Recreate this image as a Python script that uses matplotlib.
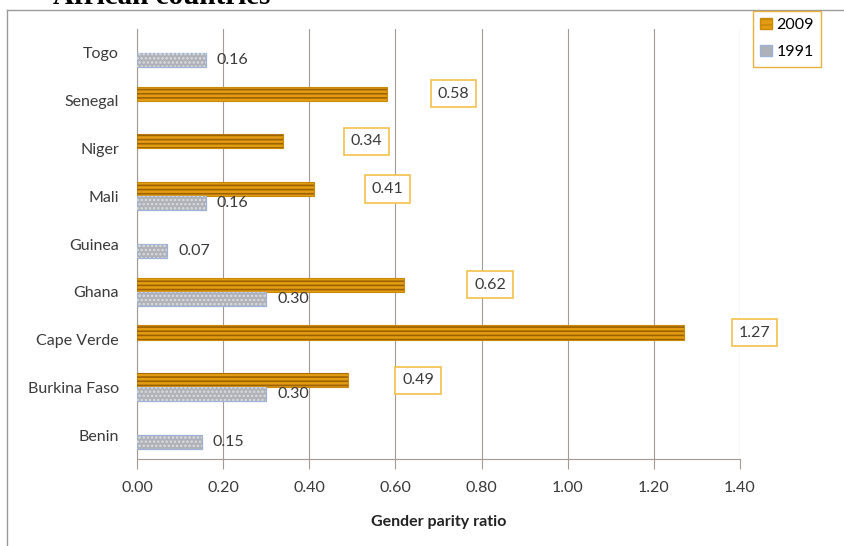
import numpy as np
import matplotlib.pyplot as plt
from matplotlib.patches import Patch
from matplotlib.lines import Line2D

# -------------------- data --------------------
countries = ["Benin", "Burkina Faso", "Cape Verde", "Ghana", "Guinea",
             "Mali", "Niger", "Senegal", "Togo"]
gpr_2009 = [np.nan, 0.49, 1.27, 0.62, np.nan, 0.41, 0.34, 0.58, np.nan]
gpr_1991 = [0.15, 0.30, np.nan, 0.30, 0.07, 0.16, np.nan, np.nan, 0.16]
xticks = np.arange(0, 1.41, 0.2)

# horizontal shift (pixels) of the boxed 2009 labels past the bar end
box_shift = [0, 48, 49, 64, 0, 52, 61, 45, 0]

# -------------------- style --------------------
fs = 11.5
grid_c = "#a39b93"
gold = "#e39c12"
gold_dark = "#9c6200"
grey = "#aeb1b7"
blue_edge = "#9db2d6"
txt_c = "#3a3a3a"

plt.rcParams.update({
    "font.family": ["Lato", "DejaVu Sans"],
    "font.size": fs,
    "hatch.linewidth": 1.2,
})

W, H = 844, 546
fig = plt.figure(figsize=(W / 100, H / 100), dpi=100)
ax = fig.add_axes([137 / W, 1 - 459 / H, 603 / W, 430 / H])

y = np.arange(len(countries))
bh = 0.295
v09 = np.array(gpr_2009)
v91 = np.array(gpr_1991)

# 2009 bars: gold with dark horizontal stripes
ax.barh(y + bh / 2, v09, height=bh, color=gold, edgecolor="#c98a0a", linewidth=0.8, zorder=3)
ax.barh(y + bh / 2, v09, height=bh, color="none", edgecolor=gold_dark, hatch="----",
        linewidth=0, zorder=4)

# 1991 bars: speckled grey with pale blue border
ax.barh(y - bh / 2, v91, height=bh, color=grey, edgecolor=blue_edge, linewidth=0.9, zorder=3)
ax.barh(y - bh / 2, v91, height=bh, color="none", edgecolor="#dcdde0", hatch="....",
        linewidth=0, zorder=4)

# labels
for i, v in enumerate(v91):
    if np.isfinite(v):
        ax.annotate(f"{v:.2f}", (v, y[i] - bh / 2), xytext=(11, 0), textcoords="offset pixels",
                    ha="left", va="center", color=txt_c, fontsize=fs, zorder=5)
for i, v in enumerate(v09):
    if np.isfinite(v):
        ax.annotate(f"{v:.2f}", (v, y[i] + bh / 2), xytext=(box_shift[i] + 6, 0),
                    textcoords="offset pixels", ha="left", va="center", color=txt_c,
                    fontsize=fs, zorder=5,
                    bbox=dict(boxstyle="square,pad=0.42", fc="white", ec="#f4c04a", lw=1.2))

# axes
ax.set_xlim(0, 1.40)
ax.set_ylim(-0.5, len(countries) - 0.5)
ax.set_xticks(xticks)
ax.set_xticklabels([f"{t:.2f}" for t in xticks], color=txt_c)
ax.set_yticks(y)
ax.set_yticklabels(countries, color=txt_c)
ax.tick_params(axis="y", length=0, pad=13)
ax.tick_params(axis="x", length=7, width=0.8, color=grid_c, pad=8.5)
ax.grid(axis="x", color=grid_c, linewidth=0.8, zorder=0)
ax.set_axisbelow(True)
for s in ["top", "right"]:
    ax.spines[s].set_visible(False)
for s in ["left", "bottom"]:
    ax.spines[s].set_color(grid_c)
    ax.spines[s].set_linewidth(0.8)
ax.set_xlabel("Gender parity ratio", fontweight="bold", color="#222222", labelpad=15)

# legend
handles = [Patch(facecolor=gold, edgecolor="#c98a0a", hatch="---", label="2009"),
           Patch(facecolor=grey, edgecolor=blue_edge, label="1991")]
fig.legend(handles=handles, loc="upper right", bbox_to_anchor=(821 / W, 1 - 11 / H),
           borderaxespad=0, frameon=True, fancybox=False, edgecolor="#e8b13c", framealpha=1,
           handlelength=0.7, handleheight=0.7, handletextpad=0.3, labelspacing=0.8,
           borderpad=0.45, fontsize=fs)

# outer chart frame and the clipped heading above it
fig.add_artist(Line2D([7 / W, 7 / W], [0, 1 - 10 / H], color="#9a9a9a", lw=1))
fig.add_artist(Line2D([7 / W, 1], [1 - 10 / H, 1 - 10 / H], color="#9a9a9a", lw=1))
fig.text(53 / W, 1 - 3.5 / H, "African countries", family="Liberation Serif",
         fontweight="bold", fontsize=21, va="baseline", ha="left")

fig.savefig("out.png", dpi=100)
